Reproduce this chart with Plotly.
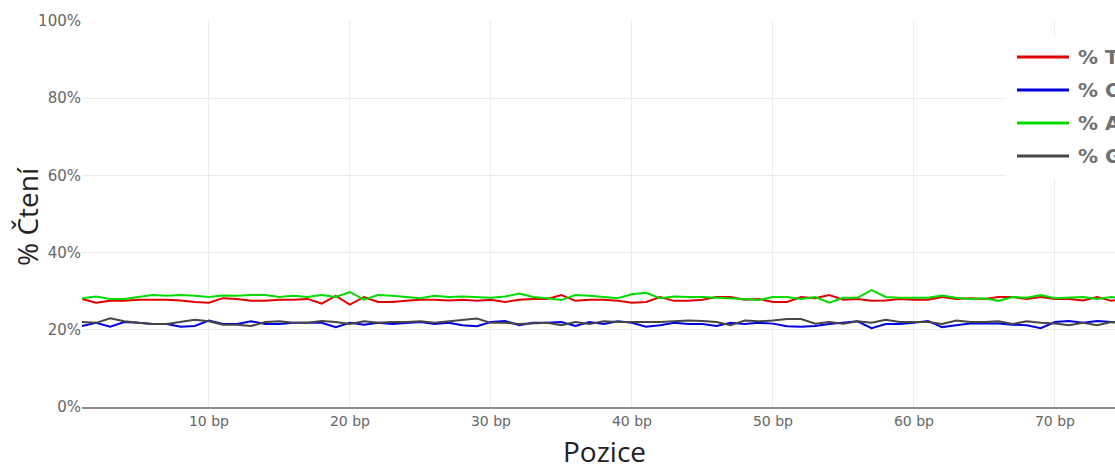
import plotly.graph_objects as go

# Per-base sequence content, positions 1..76 bp
positions = list(range(1, 77))

pct_t = [28.0, 27.0, 27.5, 27.5, 27.8, 27.8, 27.8, 27.6, 27.2, 27.0,
         28.2, 28.0, 27.5, 27.5, 27.8, 27.8, 28.0, 26.8, 28.8, 26.5,
         28.5, 27.2, 27.2, 27.5, 27.8, 27.8, 27.6, 27.8, 27.5, 27.8,
         27.2, 27.8, 28.0, 28.0, 29.0, 27.5, 27.8, 27.8, 27.5, 27.0,
         27.2, 28.5, 27.5, 27.5, 27.8, 28.5, 28.5, 27.8, 28.0, 27.2,
         27.2, 28.5, 28.2, 29.0, 27.8, 28.0, 27.5, 27.6, 28.0, 27.8,
         27.8, 28.5, 28.0, 28.2, 28.0, 28.5, 28.5, 28.0, 28.5, 28.0,
         28.0, 27.6, 28.5, 27.5, 28.0, 27.8]

pct_c = [21.0, 21.8, 20.8, 22.0, 21.8, 21.5, 21.5, 20.8, 21.0, 22.4,
         21.5, 21.5, 22.2, 21.5, 21.5, 21.8, 21.8, 21.8, 20.7, 21.8,
         21.3, 21.8, 21.5, 21.8, 22.0, 21.5, 21.8, 21.2, 20.9, 22.0,
         22.3, 21.2, 21.8, 21.8, 22.0, 21.0, 22.0, 21.5, 22.2, 21.8,
         20.8, 21.2, 21.8, 21.5, 21.5, 21.0, 21.8, 21.5, 21.8, 21.6,
         20.9, 20.8, 21.0, 21.5, 21.8, 22.2, 20.4, 21.5, 21.5, 21.8,
         22.3, 20.7, 21.2, 21.6, 21.6, 21.6, 21.3, 21.2, 20.4, 22.0,
         22.3, 21.8, 22.3, 22.0, 21.8, 22.0]

pct_a = [28.2, 28.6, 28.0, 28.0, 28.5, 29.0, 28.8, 29.0, 28.8, 28.5,
         28.9, 28.8, 29.0, 29.0, 28.5, 28.8, 28.5, 29.0, 28.5, 29.8,
         27.8, 29.0, 28.8, 28.5, 28.2, 28.8, 28.5, 28.6, 28.5, 28.3,
         28.6, 29.4, 28.5, 28.2, 27.7, 29.0, 28.8, 28.5, 28.2, 29.2,
         29.6, 28.2, 28.6, 28.5, 28.5, 28.3, 28.2, 28.0, 27.7, 28.5,
         28.5, 28.0, 28.5, 27.0, 28.3, 28.3, 30.3, 28.5, 28.3, 28.3,
         28.3, 28.9, 28.3, 28.0, 28.2, 27.5, 28.5, 28.3, 29.0, 28.2,
         28.3, 28.5, 28.0, 28.5, 28.0, 28.2]

pct_g = [22.0, 21.8, 23.0, 22.2, 21.8, 21.5, 21.5, 22.0, 22.6, 22.2,
         21.3, 21.3, 21.0, 22.0, 22.2, 21.8, 21.8, 22.3, 22.0, 21.5,
         22.2, 21.8, 22.0, 22.0, 22.2, 21.8, 22.2, 22.6, 22.9, 21.8,
         21.8, 21.5, 21.7, 21.8, 21.2, 22.0, 21.5, 22.2, 22.0, 22.0,
         22.0, 22.0, 22.2, 22.4, 22.3, 22.0, 21.2, 22.4, 22.2, 22.4,
         22.8, 22.8, 21.6, 22.0, 21.6, 22.2, 21.8, 22.6, 22.0, 22.0,
         22.0, 21.5, 22.4, 22.0, 22.0, 22.2, 21.5, 22.2, 21.8, 21.6,
         21.2, 21.8, 21.2, 22.0, 21.8, 22.0]

series_names = ["% T", "% C", "% A", "% G"]
series_colors = ["rgb(225,0,0)", "rgb(0,0,225)", "rgb(0,220,0)", "rgb(70,70,70)"]
series_values = [pct_t, pct_c, pct_a, pct_g]

x_ticks = [10, 20, 30, 40, 50, 60, 70]
y_ticks = [0, 20, 40, 60, 80, 100]

fig = go.Figure()
for name, color, vals in zip(series_names, series_colors, series_values):
    fig.add_trace(go.Scatter(x=positions, y=vals, mode="lines", name=name,
                             line=dict(color=color, width=2), showlegend=False))

W, H = 1115, 471
ML, MR, MT, MB = 82, 0, 21, 64
plot_w = W - ML - MR
plot_h = H - MT - MB
px_per_bp = 14.1
x_max = 1 + plot_w / px_per_bp


def px_x(p):
    return (p - ML) / plot_w


def px_y(p):
    return (H - MB - p) / plot_h


# Legend box (overlays the plot at the top right)
shapes = [dict(type="rect", xref="paper", yref="paper", layer="above",
               x0=px_x(1006), x1=px_x(1300), y0=px_y(178), y1=px_y(36),
               fillcolor="white", line=dict(width=0))]
annotations = []
for i, (name, color) in enumerate(zip(series_names, series_colors)):
    yy = 57 + 33 * i
    shapes.append(dict(type="line", xref="paper", yref="paper", layer="above",
                       x0=px_x(1017), x1=px_x(1069), y0=px_y(yy), y1=px_y(yy),
                       line=dict(color=color, width=3)))
    annotations.append(dict(xref="paper", yref="paper", x=px_x(1076), y=px_y(yy),
                            xanchor="left", yanchor="middle", showarrow=False,
                            text="<b>" + name + "</b>",
                            font=dict(family="DejaVu Sans", size=20, color="#707070")))

# Axis titles
title_font = dict(family="Open Sans", size=28, color="#222222")
annotations.append(dict(xref="paper", yref="paper", x=px_x(604), y=px_y(471),
                        xanchor="center", yanchor="bottom", showarrow=False,
                        borderpad=0, text="Pozice", font=title_font))
annotations.append(dict(xref="paper", yref="paper", x=px_x(27), y=px_y(217),
                        xanchor="center", yanchor="middle", showarrow=False,
                        textangle=-90, text="% Čtení", font=title_font))

fig.update_layout(
    width=W, height=H,
    margin=dict(l=ML, r=MR, t=MT, b=MB),
    paper_bgcolor="white", plot_bgcolor="white",
    shapes=shapes, annotations=annotations,
    showlegend=False,
    xaxis=dict(range=[1, x_max], tickvals=x_ticks,
               ticktext=[f"{v} bp" for v in x_ticks],
               showgrid=True, gridcolor="#ebebeb", gridwidth=1,
               showline=True, linecolor="#8c8c8c", linewidth=2,
               zeroline=False, ticks="", automargin=False,
               tickfont=dict(family="DejaVu Sans", size=14, color="#666666")),
    yaxis=dict(range=[0, 100], tickvals=y_ticks,
               ticktext=[f"{v}%" for v in y_ticks],
               showgrid=True, gridcolor="#ebebeb", gridwidth=1,
               zeroline=False, showline=False, ticks="", automargin=False,
               tickfont=dict(family="DejaVu Sans", size=15, color="#666666")),
)

fig.write_html("out.html")
